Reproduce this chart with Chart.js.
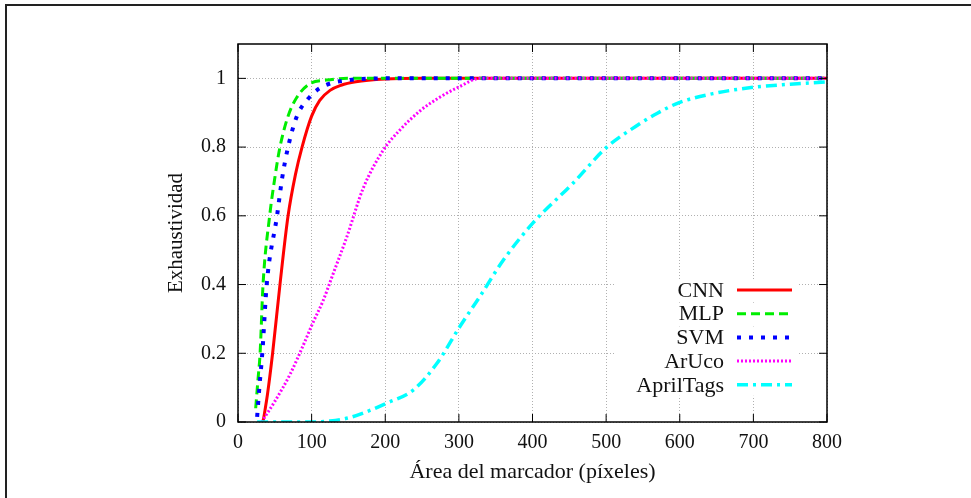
<!DOCTYPE html>
<html>
<head>
<meta charset="utf-8">
<script src="https://cdn.jsdelivr.net/npm/chart.js@4/dist/chart.umd.min.js"></script>
<style>
  html, body { margin: 0; padding: 0; background: #fff; overflow: hidden; }
  #frame { position: absolute; left: 5px; top: 4px; width: 1200px; height: 800px;
           border-left: 2px solid #222; border-top: 2px solid #222; }
  #wrap { position: absolute; left: 0; top: 0; width: 971px; height: 498px; }
</style>
</head>
<body>
<div id="frame"></div>
<div id="wrap"><canvas id="recallChart" width="971" height="498"></canvas></div>
<script>
const seriesNames = ['CNN', 'MLP', 'SVM', 'ArUco', 'AprilTags'];

// area del marcador (x) y exhaustividad (y) de cada curva
const cnnX = [34, 40, 47, 57, 68, 78, 87, 100, 111, 125, 140, 160, 200, 250, 800];
const cnnY = [0, 0.08, 0.2, 0.4, 0.6, 0.72, 0.8, 0.89, 0.936, 0.965, 0.98, 0.99, 0.998, 1, 1];

const mlpX = [24, 27, 30, 34, 43, 50, 57, 68, 80, 98, 120, 150, 200, 800];
const mlpY = [0.04, 0.12, 0.2, 0.4, 0.6, 0.71, 0.8, 0.89, 0.945, 0.985, 0.995, 1, 1, 1];

const svmX = [26, 29, 33, 39, 53, 60, 68, 80, 95, 110, 125, 150, 200, 800];
const svmY = [0.015, 0.1, 0.2, 0.4, 0.6, 0.71, 0.8, 0.89, 0.94, 0.97, 0.985, 0.995, 1, 1];

const arucoX = [32, 50, 71, 90, 102, 115, 129, 148, 170, 197, 220, 247, 274, 300, 329, 800];
const arucoY = [0, 0.06, 0.14, 0.23, 0.29, 0.35, 0.43, 0.54, 0.68, 0.79, 0.85, 0.905, 0.945, 0.975, 1, 1];

const aprilX = [26, 60, 100, 125, 150, 170, 202, 238, 270, 302, 330, 360, 401, 455, 501, 540, 569, 600, 646, 700, 750, 800];
const aprilY = [0, 0, 0, 0.003, 0.012, 0.026, 0.055, 0.093, 0.17, 0.28, 0.37, 0.47, 0.58, 0.695, 0.8, 0.86, 0.898, 0.93, 0.956, 0.974, 0.983, 0.99];

const xTicks = [0, 100, 200, 300, 400, 500, 600, 700, 800];
const yTicks = [0, 0.2, 0.4, 0.6, 0.8, 1];

const FONT = '"Liberation Serif", "DejaVu Serif", serif';

function pts(xs, ys) {
  return xs.map((x, i) => ({ x: x, y: ys[i] }));
}

const styles = [
  { color: '#ff0000', dash: [], width: 3 },
  { color: '#00ee00', dash: [9, 5], width: 3 },
  { color: '#0000ff', dash: [4, 8], width: 4 },
  { color: '#ff00ff', dash: [2, 2], width: 3 },
  { color: '#00ffff', dash: [11, 5, 3, 5], width: 3.5 }
];
const allX = [cnnX, mlpX, svmX, arucoX, aprilX];
const allY = [cnnY, mlpY, svmY, arucoY, aprilY];

const datasets = seriesNames.map((name, i) => ({
  label: name,
  data: pts(allX[i], allY[i]),
  borderColor: styles[i].color,
  borderDash: styles[i].dash,
  borderWidth: styles[i].width,
  pointRadius: 0,
  cubicInterpolationMode: 'monotone',
  fill: false,
  order: seriesNames.length - i
}));

// marco, marcas interiores y leyenda al estilo gnuplot
const gnuplotLook = {
  id: 'gnuplotLook',
  afterDatasetsDraw(chart) {
    const ctx = chart.ctx;
    const a = chart.chartArea;
    const xs = chart.scales.x, ys = chart.scales.y;
    ctx.save();
    ctx.setLineDash([]);
    ctx.strokeStyle = '#000';
    ctx.lineWidth = 1.5;
    ctx.strokeRect(a.left, a.top, a.right - a.left, a.bottom - a.top);
    ctx.lineWidth = 1;
    const tl = 8;
    ctx.beginPath();
    xTicks.forEach(v => {
      const px = xs.getPixelForValue(v);
      ctx.moveTo(px, a.bottom); ctx.lineTo(px, a.bottom - tl);
      ctx.moveTo(px, a.top); ctx.lineTo(px, a.top + tl);
    });
    yTicks.forEach(v => {
      const py = ys.getPixelForValue(v);
      ctx.moveTo(a.left, py); ctx.lineTo(a.left + tl, py);
      ctx.moveTo(a.right, py); ctx.lineTo(a.right - tl, py);
    });
    ctx.stroke();

    // leyenda
    const lineEnd = a.right - 35, lineStart = lineEnd - 55, textRight = lineStart - 13;
    const rowTop = a.bottom - 132, step = 23.7;
    ctx.font = '22px ' + FONT;
    ctx.textAlign = 'right';
    ctx.textBaseline = 'middle';
    chart.data.datasets.forEach((ds, i) => {
      const y = rowTop + i * step;
      ctx.fillStyle = '#fff';
      ctx.fillRect(textRight - 110, y - 11, lineEnd - textRight + 115, 22);
    });
    chart.data.datasets.forEach((ds, i) => {
      const y = rowTop + i * step;
      ctx.fillStyle = '#111';
      ctx.fillText(ds.label, textRight, y + 1);
      ctx.strokeStyle = ds.borderColor;
      ctx.lineWidth = ds.borderWidth;
      ctx.setLineDash(ds.borderDash);
      ctx.beginPath();
      ctx.moveTo(lineStart, y);
      ctx.lineTo(lineEnd, y);
      ctx.stroke();
    });
    ctx.restore();
  }
};

const ctx = document.getElementById('recallChart').getContext('2d');
new Chart(ctx, {
  type: 'line',
  data: { datasets: datasets },
  plugins: [gnuplotLook],
  options: {
    responsive: false,
    animation: false,
    layout: { padding: { left: 160, right: 144, top: 44, bottom: 0 } },
    plugins: { legend: { display: false }, tooltip: { enabled: false } },
    scales: {
      x: {
        type: 'linear',
        min: 0,
        max: 800,
        afterFit(scale) { scale.height = 76; },
        afterBuildTicks(scale) { scale.ticks = xTicks.map(v => ({ value: v })); },
        grid: { color: '#b0b0b0', lineWidth: 1, drawTicks: false },
        border: { display: false, dash: [1, 2] },
        ticks: { padding: 9, color: '#111', font: { family: FONT, size: 20 }, maxRotation: 0 },
        title: { display: true, text: 'Área del marcador (píxeles)', color: '#111',
                 font: { family: FONT, size: 22 }, padding: { top: 4, bottom: 13 } }
      },
      y: {
        type: 'linear',
        min: 0,
        max: 1.1,
        afterFit(scale) { scale.width = 78; },
        afterBuildTicks(scale) { scale.ticks = yTicks.map(v => ({ value: v })); },
        grid: { color: '#b0b0b0', lineWidth: 1, drawTicks: false },
        border: { display: false, dash: [1, 2] },
        ticks: { padding: 12, color: '#111', font: { family: FONT, size: 20 },
                 callback: v => String(Math.round(v * 10) / 10) },
        title: { display: true, text: 'Exhaustividad', color: '#111',
                 font: { family: FONT, size: 21 }, padding: { top: 4, bottom: 4 } }
      }
    }
  }
});
</script>
</body>
</html>
